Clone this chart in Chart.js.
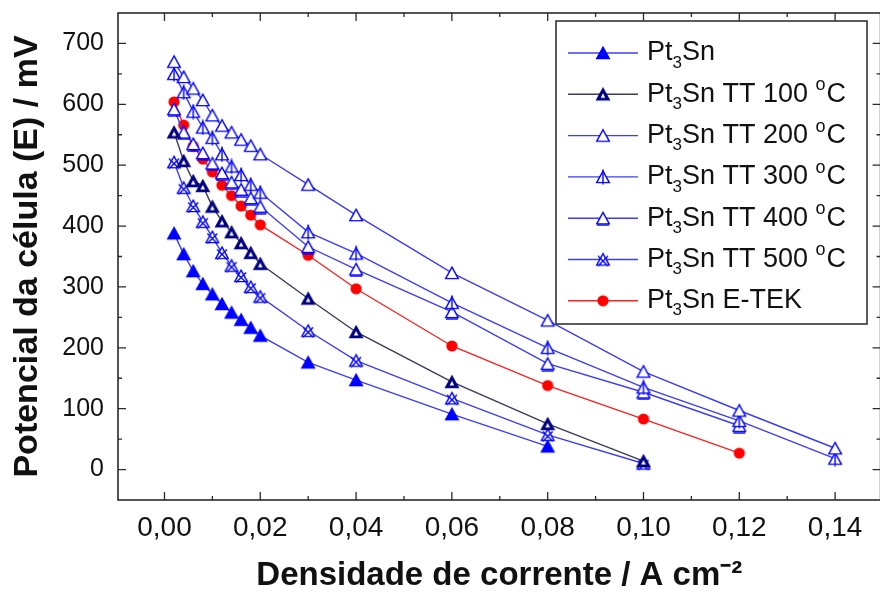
<!DOCTYPE html>
<html>
<head>
<meta charset="utf-8">
<script src="https://cdn.jsdelivr.net/npm/chart.js@4.4.1/dist/chart.umd.min.js"></script>
<style>
  html, body { margin: 0; background: #fff; overflow: hidden; width: 880px; height: 592px; }
  #caixa { position: relative; width: 880px; height: 592px; overflow: hidden; }
  #grafico { width: 888px; height: 592px; display: block; }
</style>
</head>
<body>
<div id="caixa"><canvas id="grafico" width="888" height="592"></canvas></div>
<script>
// densidade de corrente (A cm-2)
var corrente = [0.002, 0.004, 0.006, 0.008, 0.010, 0.012, 0.014, 0.016, 0.018, 0.020, 0.03, 0.04, 0.06, 0.08, 0.10, 0.12, 0.14];

// potencial (mV) de cada catalisador
var pt3sn      = [388, 354, 326, 305, 288, 272, 258, 246, 233, 220, 176, 147, 91, 38];
var tt100      = [554, 507, 474, 466, 432, 408, 390, 372, 356, 338, 281, 226, 144, 75, 14];
var tt200      = [670, 645, 626, 607, 582, 565, 554, 542, 532, 518, 468, 418, 323, 245, 161, 97, 35];
var tt300      = [650, 620, 588, 562, 545, 518, 498, 484, 468, 455, 390, 355, 274, 200, 135, 80, 18];
var tt400      = [592, 554, 535, 520, 503, 487, 472, 460, 446, 432, 366, 329, 259, 174, 127, 72];
var tt500      = [505, 463, 433, 407, 382, 356, 335, 318, 300, 284, 228, 179, 117, 57, 10];
var etek       = [604, 566, 531, 510, 489, 467, 450, 433, 418, 402, 352, 297, 203, 138, 83, 27];

var legendas = ['Pt₃Sn', 'Pt₃Sn TT 100 °C', 'Pt₃Sn TT 200 °C', 'Pt₃Sn TT 300 °C', 'Pt₃Sn TT 400 °C', 'Pt₃Sn TT 500 °C', 'Pt₃Sn E-TEK'];

var ticksX = [0, 0.02, 0.04, 0.06, 0.08, 0.10, 0.12, 0.14];
var ticksY = [0, 100, 200, 300, 400, 500, 600, 700];

var fonte = "'Liberation Sans', Arial, sans-serif";

function marca(tipo, cor){
    var c = document.createElement('canvas');
    c.width = 16; c.height = 16;
    var g = c.getContext('2d');
    g.lineWidth = 1.4;
    g.strokeStyle = cor;
    g.fillStyle = cor;
    function tri(){
        g.beginPath();
        g.moveTo(8, 2.2);
        g.lineTo(14.3, 13.6);
        g.lineTo(1.7, 13.6);
        g.closePath();
    }
    if(tipo === 'circulo'){
        g.beginPath();
        g.arc(8, 8, 5.6, 0, Math.PI * 2);
        g.fill();
        return c;
    }
    tri();
    if(tipo === 'cheio' || tipo === 'escuro'){
        g.fill();
        g.stroke();
    } else {
        g.fillStyle = '#fff';
        g.fill();
        g.stroke();
    }
    if(tipo === 'escuro'){
        g.beginPath();
        g.moveTo(8, 7);
        g.lineTo(10.3, 11.5);
        g.lineTo(5.7, 11.5);
        g.closePath();
        g.fillStyle = '#fff';
        g.fill();
    }
    if(tipo === 'barra'){
        g.beginPath();
        g.moveTo(8, 0.5); g.lineTo(8, 15.5);
        g.stroke();
    }
    if(tipo === 'base'){
        g.beginPath();
        g.moveTo(2, 15); g.lineTo(14, 15);
        g.stroke();
    }
    if(tipo === 'estrela'){
        g.beginPath();
        g.moveTo(3, 4.5); g.lineTo(13, 14.5);
        g.moveTo(13, 4.5); g.lineTo(3, 14.5);
        g.stroke();
    }
    return c;
}

function serie(label, valores, cor, corLinha, tipo){
    var pts = [];
    for(var i = 0; i < valores.length; i++){
        pts.push({x: corrente[i], y: valores[i]});
    }
    var m = marca(tipo, cor);
    return {
        label: label,
        data: pts,
        borderColor: corLinha,
        backgroundColor: cor,
        borderWidth: 1.4,
        pointStyle: m,
        pointRadius: 6,
        pointHoverRadius: 6,
        tension: 0,
        marca: m
    };
}

var azul = '#0000ff';
var linhaAzul = '#3c3cff';

var datasets = [
    serie(legendas[0], pt3sn, azul, linhaAzul, 'cheio'),
    serie(legendas[1], tt100, '#000080', '#3a3a5c', 'escuro'),
    serie(legendas[2], tt200, azul, linhaAzul, 'aberto'),
    serie(legendas[3], tt300, azul, linhaAzul, 'barra'),
    serie(legendas[4], tt400, azul, linhaAzul, 'base'),
    serie(legendas[5], tt500, azul, linhaAzul, 'estrela'),
    serie(legendas[6], etek, '#ff0000', '#ff2020', 'circulo')
];

// moldura e ticks para dentro
var moldura = {
    id: 'moldura',
    beforeDatasetsDraw: function(chart){
        var ctx = chart.ctx;
        var a = chart.chartArea;
        var sx = chart.scales.x, sy = chart.scales.y;
        ctx.save();
        ctx.strokeStyle = '#2a2a2a';
        ctx.lineWidth = 1.6;
        ctx.strokeRect(a.left, a.top, a.right - a.left, a.bottom - a.top);
        ctx.lineWidth = 1.3;
        ctx.beginPath();
        for(var v = 0; v <= 0.1401; v += 0.01){
            var px = sx.getPixelForValue(v);
            var major = Math.round(v * 100) % 2 === 0;
            var t = major ? 8 : 4;
            ctx.moveTo(px, a.bottom); ctx.lineTo(px, a.bottom - t);
            ctx.moveTo(px, a.top); ctx.lineTo(px, a.top + t);
        }
        for(var w = 0; w <= 700; w += 50){
            var py = sy.getPixelForValue(w);
            var t2 = (w % 100 === 0) ? 8 : 4;
            ctx.moveTo(a.left, py); ctx.lineTo(a.left + t2, py);
            ctx.moveTo(a.right, py); ctx.lineTo(a.right - t2, py);
        }
        ctx.stroke();
        ctx.restore();
    }
};

function textoLegenda(ctx, txt, x, y){
    var run = '';
    function solta(){
        if(run){
            ctx.font = '27px ' + fonte;
            ctx.fillText(run, x, y);
            x += ctx.measureText(run).width;
            run = '';
        }
    }
    for(var i = 0; i < txt.length; i++){
        var ch = txt[i];
        if(ch === '₃'){
            solta();
            ctx.font = '17px ' + fonte;
            ctx.fillText('3', x, y + 10);
            x += ctx.measureText('3').width;
        } else if(ch === '°'){
            solta();
            ctx.font = '18px ' + fonte;
            ctx.fillText('o', x, y - 9);
            x += ctx.measureText('o').width + 1;
        } else {
            run += ch;
        }
    }
    solta();
}

var legenda = {
    id: 'legenda',
    afterDraw: function(chart){
        var ctx = chart.ctx;
        var x0 = 556, y0 = 21, x1 = 867, y1 = 324;
        ctx.save();
        ctx.fillStyle = '#fff';
        ctx.fillRect(x0, y0, x1 - x0, y1 - y0);
        ctx.strokeStyle = '#333';
        ctx.lineWidth = 1.6;
        ctx.strokeRect(x0, y0, x1 - x0, y1 - y0);
        ctx.textBaseline = 'middle';
        ctx.fillStyle = '#111';
        chart.data.datasets.forEach(function(ds, i){
            var y = 53 + i * 41.3;
            ctx.strokeStyle = ds.borderColor;
            ctx.lineWidth = 1.4;
            ctx.beginPath();
            ctx.moveTo(568, y); ctx.lineTo(638, y);
            ctx.stroke();
            ctx.drawImage(ds.marca, 603 - 8, y - 8);
            ctx.fillStyle = '#111';
            textoLegenda(ctx, ds.label, 647, y);
        });
        ctx.restore();
    }
};

new Chart(document.getElementById('grafico'), {
    type: 'line',
    data: { datasets: datasets },
    options: {
        responsive: false,
        animation: false,
        layout: { padding: { top: 13, right: 1, left: 0, bottom: 0 } },
        plugins: {
            legend: { display: false },
            tooltip: { enabled: false }
        },
        scales: {
            x: {
                type: 'linear',
                min: -0.0097,
                max: 0.1495,
                grid: { display: false, drawTicks: false },
                border: { display: false },
                afterFit: function(s){ s.height = 92; s.paddingLeft = 0; s.paddingRight = 0; },
                afterBuildTicks: function(s){ s.ticks = ticksX.map(function(v){ return {value: v}; }); },
                ticks: {
                    padding: 11,
                    color: '#111',
                    font: { family: fonte, size: 28 },
                    callback: function(v){ return v.toFixed(2).replace('.', ','); }
                },
                title: {
                    display: true,
                    text: 'Densidade de corrente / A cm⁻²',
                    color: '#111',
                    font: { family: fonte, size: 33, weight: 'bold', lineHeight: 1 },
                    padding: { top: 0, bottom: 0 }
                }
            },
            y: {
                min: -50,
                max: 750,
                grid: { display: false, drawTicks: false },
                border: { display: false },
                afterFit: function(s){ s.width = 118; s.paddingTop = 0; s.paddingBottom = 0; },
                afterBuildTicks: function(s){ s.ticks = ticksY.map(function(v){ return {value: v}; }); },
                ticks: {
                    padding: 14,
                    color: '#111',
                    font: { family: fonte, size: 25 }
                },
                title: {
                    display: true,
                    text: 'Potencial da célula (E) / mV',
                    color: '#111',
                    font: { family: fonte, size: 34, weight: 'bold', lineHeight: 1 },
                    padding: { top: 11, bottom: 0 }
                }
            }
        }
    },
    plugins: [moldura, legenda]
});
</script>
</body>
</html>
